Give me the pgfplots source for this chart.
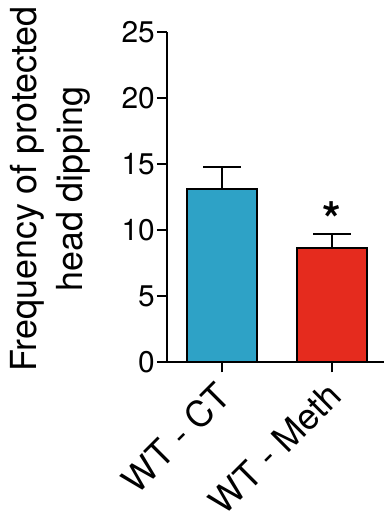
\documentclass[border=0pt]{standalone}
\usepackage{pgfplots}
\pgfplotsset{compat=1.18}
\usepackage{fontspec}
\setmainfont{TeX Gyre Heros}
\definecolor{barblue}{RGB}{46,162,198}
\definecolor{barred}{RGB}{229,43,30}
\begin{document}
\begin{tikzpicture}
\path[use as bounding box] (-167bp,-156.7bp) rectangle (217bp,362.3bp);
\begin{axis}[
  at={(0,0)}, anchor=south west,
  scale only axis,
  width=217bp, height=330bp,
  xmin=-0.5, xmax=1.47,
  ymin=0, ymax=25,
  axis x line*=bottom, axis y line*=left,
  axis line style={line width=2bp},
  every tick/.style={line width=2bp, black},
  tick align=outside,
  major tick length=10bp,
  xtick={0,1},
  xticklabels={WT - CT, WT - Meth},
  ytick={0,5,10,15,20,25},
  /pgf/number format/assume math mode=true,
  yticklabel style={font=\fontsize{30}{36}\selectfont, inner sep=2bp},
  xticklabel style={font=\fontsize{36}{42}\selectfont, xshift=-7.5bp, yshift=-4.5bp, rotate=45, anchor=north east, inner sep=2bp},
  ylabel={Frequency of protected\\head dipping},
  ylabel style={font=\fontsize{36}{46}\selectfont, align=center, at={(axis description cs:-0.539,0.525)}, anchor=center},
  ybar, bar width=0.64, bar shift=0pt,
  clip=false,
]
\addplot[fill=barblue, draw=black, line width=2bp,
  error bars/.cd, y dir=plus, y explicit,
  error bar style={line width=2bp, black},
  error mark options={rotate=90, line width=2bp, black, mark size=19bp}]
  coordinates {(0,13.1) +- (0,1.72)};
\addplot[fill=barred, draw=black, line width=2bp,
  error bars/.cd, y dir=plus, y explicit,
  error bar style={line width=2bp, black},
  error mark options={rotate=90, line width=2bp, black, mark size=19bp}]
  coordinates {(1,8.66) +- (0,1.06)};
\node[font=\fontsize{48}{50}\selectfont\bfseries, anchor=center] at (axis cs:1,10.86) {*};
\end{axis}
\end{tikzpicture}
\end{document}
